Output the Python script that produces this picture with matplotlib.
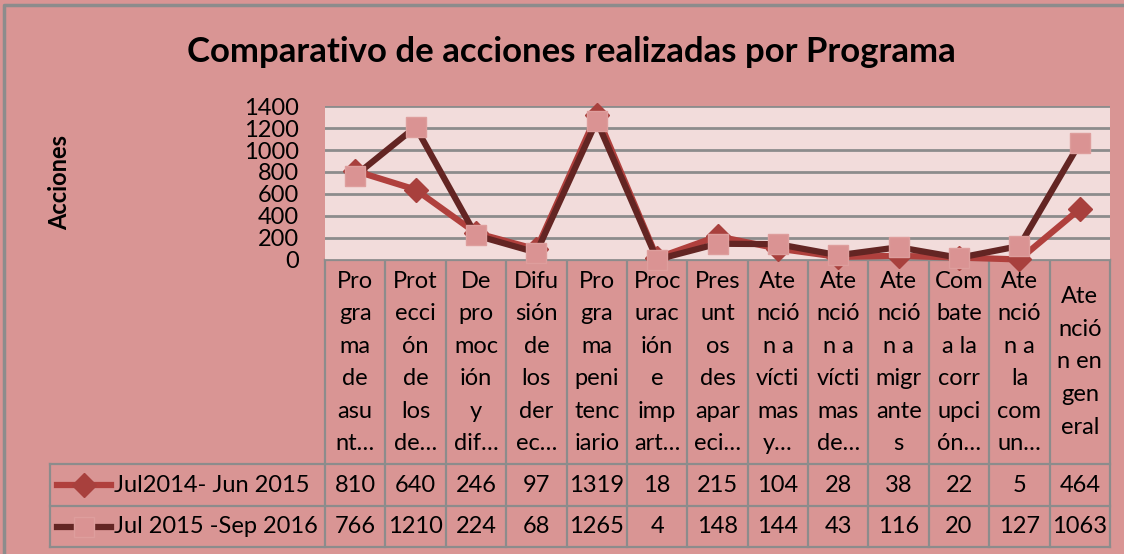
import matplotlib.pyplot as plt
from matplotlib.transforms import blended_transform_factory
import numpy as np

plt.rcParams['font.family'] = ['Lato', 'DejaVu Sans']

# data
categories = [
    'Pro\ngra\nma\nde\nasu\nnt…',
    'Prot\necci\nón\nde\nlos\nde…',
    'De\npro\nmoc\nión\ny\ndif…',
    'Difu\nsión\nde\nlos\nder\nec…',
    'Pro\ngra\nma\npeni\ntenc\niario',
    'Proc\nurac\nión\ne\nimp\nart…',
    'Pres\nunt\nos\ndes\napar\neci…',
    'Ate\nnció\nn a\nvícti\nmas\ny…',
    'Ate\nnció\nn a\nvícti\nmas\nde…',
    'Ate\nnció\nn a\nmigr\nante\ns',
    'Com\nbate\na la\ncorr\nupci\nón…',
    'Ate\nnció\nn a\nla\ncom\nun…',
    'Ate\nnció\nn en\ngen\neral',
]
serie1_name = 'Jul2014- Jun 2015'
serie2_name = 'Jul 2015 -Sep 2016'
serie1 = [810, 640, 246, 97, 1319, 18, 215, 104, 28, 38, 22, 5, 464]
serie2 = [766, 1210, 224, 68, 1265, 4, 148, 144, 43, 116, 20, 127, 1063]
yticks = [0, 200, 400, 600, 800, 1000, 1200, 1400]

bg = '#D99594'
plot_bg = '#F2DCDB'
grid_c = '#8C8C8C'
red = '#B0403D'
maroon = '#632523'
sq_fill = '#DA9393'
fs = 17

W, H = 1124, 554
fig = plt.figure(figsize=(W / 100, H / 100), dpi=100, facecolor=bg)

# overlay in pixel coordinates for table / border
ov = fig.add_axes([0, 0, 1, 1], zorder=0)
ov.set_xlim(0, W)
ov.set_ylim(H, 0)
ov.axis('off')
ov.patch.set_alpha(0)
ov.plot([4, 4, W + 5], [H + 5, 5, 5], color='#8C8C8C', lw=2.5)

left, right, top, bot = 325, 1110, 106, 260
ax = fig.add_axes([left / W, 1 - bot / H, (right - left) / W, (bot - top) / H], zorder=2)
ax.set_facecolor(plot_bg)
x = np.arange(len(categories))
ax.set_xlim(-0.5, len(categories) - 0.5)
ax.set_ylim(0, 1400)
ax.set_yticks(yticks)
ax.yaxis.grid(True, color=grid_c, lw=2)
ax.set_axisbelow(True)
ax.set_xticks([])
ax.tick_params(axis='y', length=0, pad=19, labelsize=fs)
for s in ax.spines.values():
    s.set_visible(False)

ax.plot(x, serie1, color=red, lw=4.5, marker='D', ms=12, mfc='#A8403D', mec='#A8403D',
        zorder=3, clip_on=False)
ax.plot(x, serie2, color=maroon, lw=4.5, marker='s', ms=14, mfc=sq_fill, mec='#DE9E9D',
        mew=1, zorder=4, clip_on=False)

ov.text(60, 182, 'Acciones', rotation=90, ha='center', va='center',
        fontsize=fs, fontweight='bold')

fig.text(571 / W, 1 - 52 / H, 'Comparativo de acciones realizadas por Programa',
         ha='center', va='center', fontsize=25, fontweight='bold')

# data table
tr = blended_transform_factory(ax.transData, ov.transData)
row_top, row1, row2, row_bot = bot, 464, 506, 547
lc = grid_c
lw = 1.6
for i in range(len(categories) + 1):
    ov.plot([i - 0.5, i - 0.5], [row_top, row_bot], color=lc, lw=lw, transform=tr, clip_on=False)
ov.plot([left, right], [row_top, row_top], color=lc, lw=lw)
for yy in (row1, row2, row_bot):
    ov.plot([50, right], [yy, yy], color=lc, lw=lw)
ov.plot([50, 50], [row1, row_bot], color=lc, lw=lw)

line_h = 32.6
mid = (row_top + row1) / 2
for i, cat in enumerate(categories):
    lines = cat.split('\n')
    n = len(lines)
    if n == 6:
        ys = [281 + k * line_h for k in range(n)]
    else:
        ys = [mid + (k - (n - 1) / 2) * line_h for k in range(n)]
    for ln, yy in zip(lines, ys):
        ov.text(i, yy, ln, transform=tr, ha='center', va='center', fontsize=fs)

for vals, yy in ((serie1, (row1 + row2) / 2), (serie2, (row2 + row_bot) / 2)):
    for i, v in enumerate(vals):
        ov.text(i, yy, str(v), transform=tr, ha='center', va='center', fontsize=fs)

# legend keys inside the table
y1 = (row1 + row2) / 2
y2 = (row2 + row_bot) / 2
ov.plot([57, 111], [y1, y1], color=red, lw=4.5)
ov.plot([84], [y1], marker='D', ms=12, color='#A8403D')
ov.plot([57, 111], [y2, y2], color=maroon, lw=4.5)
ov.plot([84], [y2], marker='s', ms=14, mfc=sq_fill, mec='#DE9E9D')
ov.text(114, y1, serie1_name, ha='left', va='center', fontsize=fs)
ov.text(114, y2, serie2_name, ha='left', va='center', fontsize=fs)

fig.savefig('out.png', dpi=100, facecolor=bg)
